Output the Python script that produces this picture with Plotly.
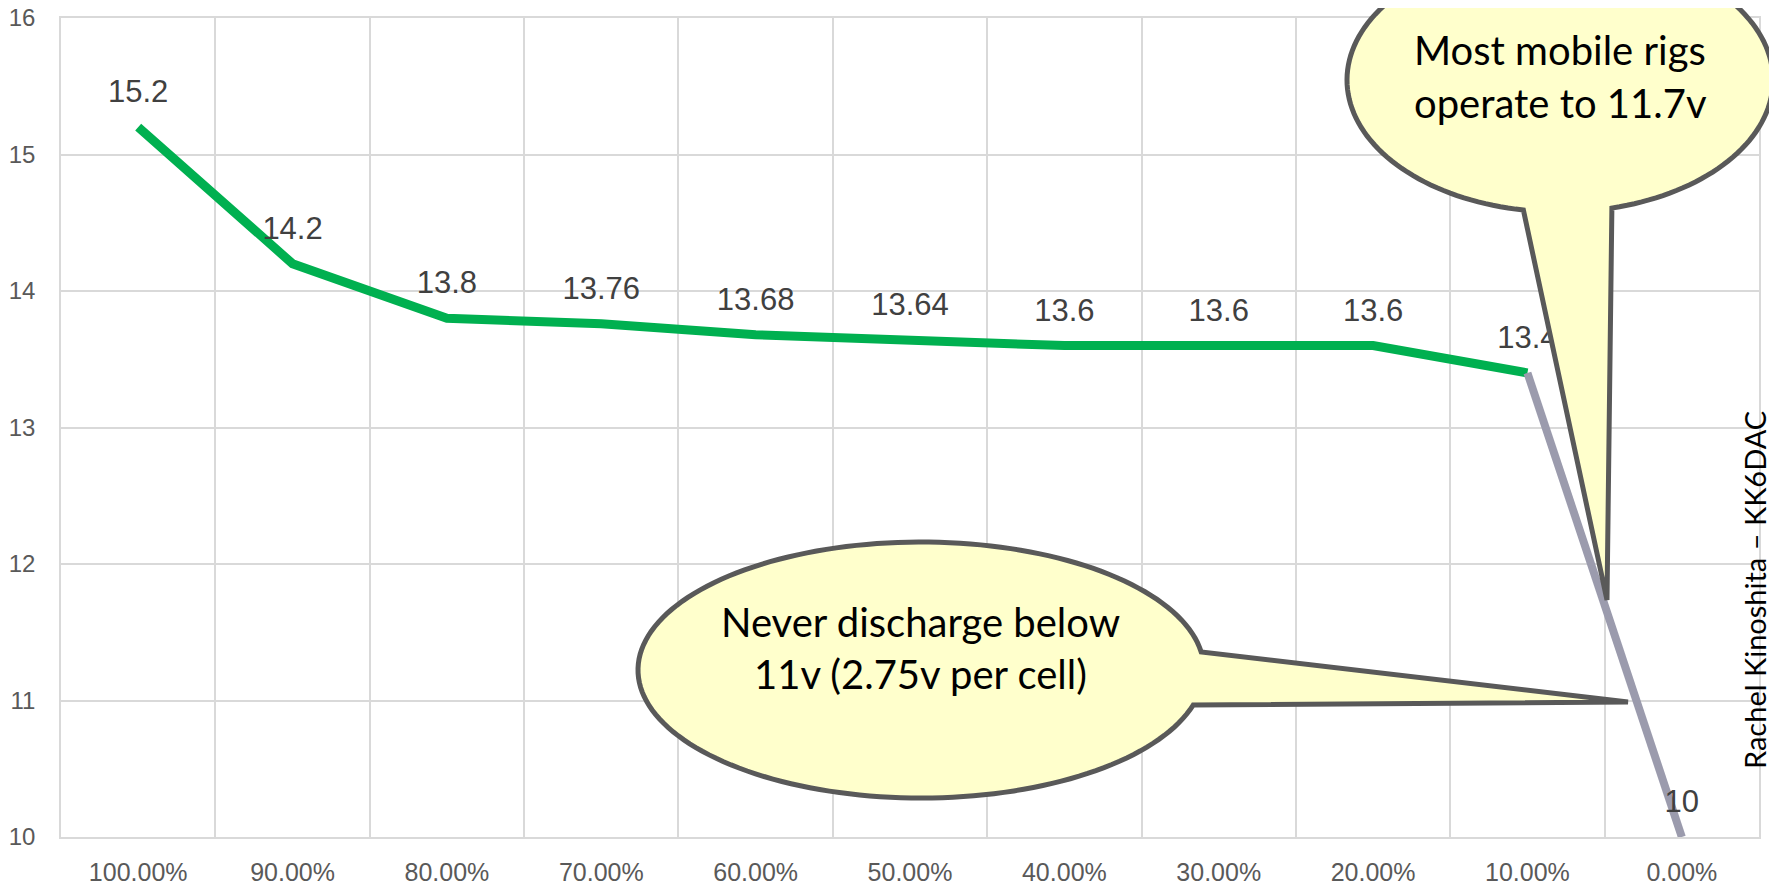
"""LiFePO4 discharge curve with callouts."""
import numpy as np
import plotly.graph_objects as go

# state of charge categories and voltages
soc_labels = ["100.00%", "90.00%", "80.00%", "70.00%", "60.00%", "50.00%",
              "40.00%", "30.00%", "20.00%", "10.00%", "0.00%"]
usable_volts = [15.2, 14.2, 13.8, 13.76, 13.68, 13.64, 13.6, 13.6, 13.6, 13.4]
tail_labels = ["10.00%", "0.00%"]
tail_volts = [13.4, 10]
y_ticks = [10, 11, 12, 13, 14, 15, 16]

W, H = 1777, 883
OFF = 8  # page body margin
L, T, PW, PH = 61 - OFF, 18 - OFF, 1698, 819


def to_paper(px, py):
    # px, py are page pixels
    px, py = px - OFF, py - OFF
    return (px - L) / PW, (T + PH - py) / PH


def callout_path(cx, cy, rx, ry, t_start, t_end, tip):
    ts = np.radians(np.linspace(t_start, t_end, 160))
    pts = [to_paper(cx + rx * np.cos(t), cy + ry * np.sin(t)) for t in ts]
    pts.append(to_paper(*tip))
    d = "M " + " L ".join(f"{x:.5f},{y:.5f}" for x, y in pts) + " Z"
    return d


fig = go.Figure()

fig.add_trace(go.Scatter(
    x=soc_labels[:len(usable_volts)],
    y=usable_volts,
    mode="lines+markers+text",
    line=dict(color="#00B050", width=9),
    marker=dict(size=26, opacity=0),
    text=[f"{v:g}" for v in usable_volts],
    textposition="top center",
    textfont=dict(family="Liberation Sans, Arial", size=31, color="#404040"),
    hoverinfo="skip",
    showlegend=False,
))

fig.add_trace(go.Scatter(
    x=tail_labels,
    y=tail_volts,
    mode="lines+markers+text",
    line=dict(color="#9B9BAD", width=8),
    marker=dict(size=26, opacity=0),
    text=["", f"{tail_volts[-1]:g}"],
    textposition="top center",
    textfont=dict(family="Liberation Sans, Arial", size=31, color="#404040"),
    hoverinfo="skip",
    showlegend=False,
))

callout_style = dict(type="path", xref="paper", yref="paper", layer="above",
                     fillcolor="#FFFFCC", line=dict(color="#595959", width=5))

fig.add_shape(path=callout_path(1560, 80, 213, 132, 99.9, 435.9, (1607, 600)),
              **callout_style)
fig.add_shape(path=callout_path(921, 670, 283, 128, 15.9, 351.9, (1628, 702)),
              **callout_style)

callout_font = dict(family="Lato, Noto Sans", size=40, color="#000000")
for txt, px, py in [("Most mobile rigs", 1560, 50), ("operate to 11.7v", 1560, 103),
                    ("Never discharge below", 920, 622), ("11v (2.75v per cell)", 920, 674)]:
    x, y = to_paper(px, py)
    fig.add_annotation(x=x, y=y, xref="paper", yref="paper", text=txt,
                       showarrow=False, font=callout_font,
                       xanchor="center", yanchor="middle")

sx, sy = to_paper(1754, 590)
fig.add_annotation(x=sx, y=sy, xref="paper", yref="paper",
                   text="Rachel Kinoshita – KK6DAC", textangle=-90,
                   showarrow=False, xanchor="center", yanchor="middle",
                   font=dict(family="Lato, Noto Sans", size=29, color="#000000"))

fig.update_xaxes(
    type="category",
    categoryorder="array",
    categoryarray=soc_labels,
    range=[-0.5, len(soc_labels) - 0.5],
    tickson="boundaries",
    automargin=False,
    showgrid=True,
    gridcolor="#D9D9D9",
    gridwidth=1.5,
    showline=True,
    mirror=True,
    linecolor="#D9D9D9",
    linewidth=1.5,
    ticks="",
    ticklabelstandoff=12,
    ticklabeloverflow="allow",
    tickfont=dict(family="Liberation Sans, Arial", size=25, color="#595959"),
    fixedrange=True,
)

fig.update_yaxes(
    range=[10, 16],
    tickvals=y_ticks,
    automargin=False,
    showgrid=True,
    gridcolor="#D9D9D9",
    gridwidth=1.5,
    showline=True,
    mirror=True,
    linecolor="#D9D9D9",
    linewidth=1.5,
    zeroline=False,
    ticks="",
    ticklabelstandoff=19,
    ticklabeloverflow="allow",
    tickfont=dict(family="Liberation Sans, Arial", size=24, color="#595959"),
    fixedrange=True,
)

fig.update_layout(
    width=W,
    height=H,
    autosize=False,
    margin=dict(l=L, r=W - L - PW, t=T, b=H - T - PH),
    plot_bgcolor="white",
    paper_bgcolor="white",
    showlegend=False,
)

fig.write_html("out.html")
